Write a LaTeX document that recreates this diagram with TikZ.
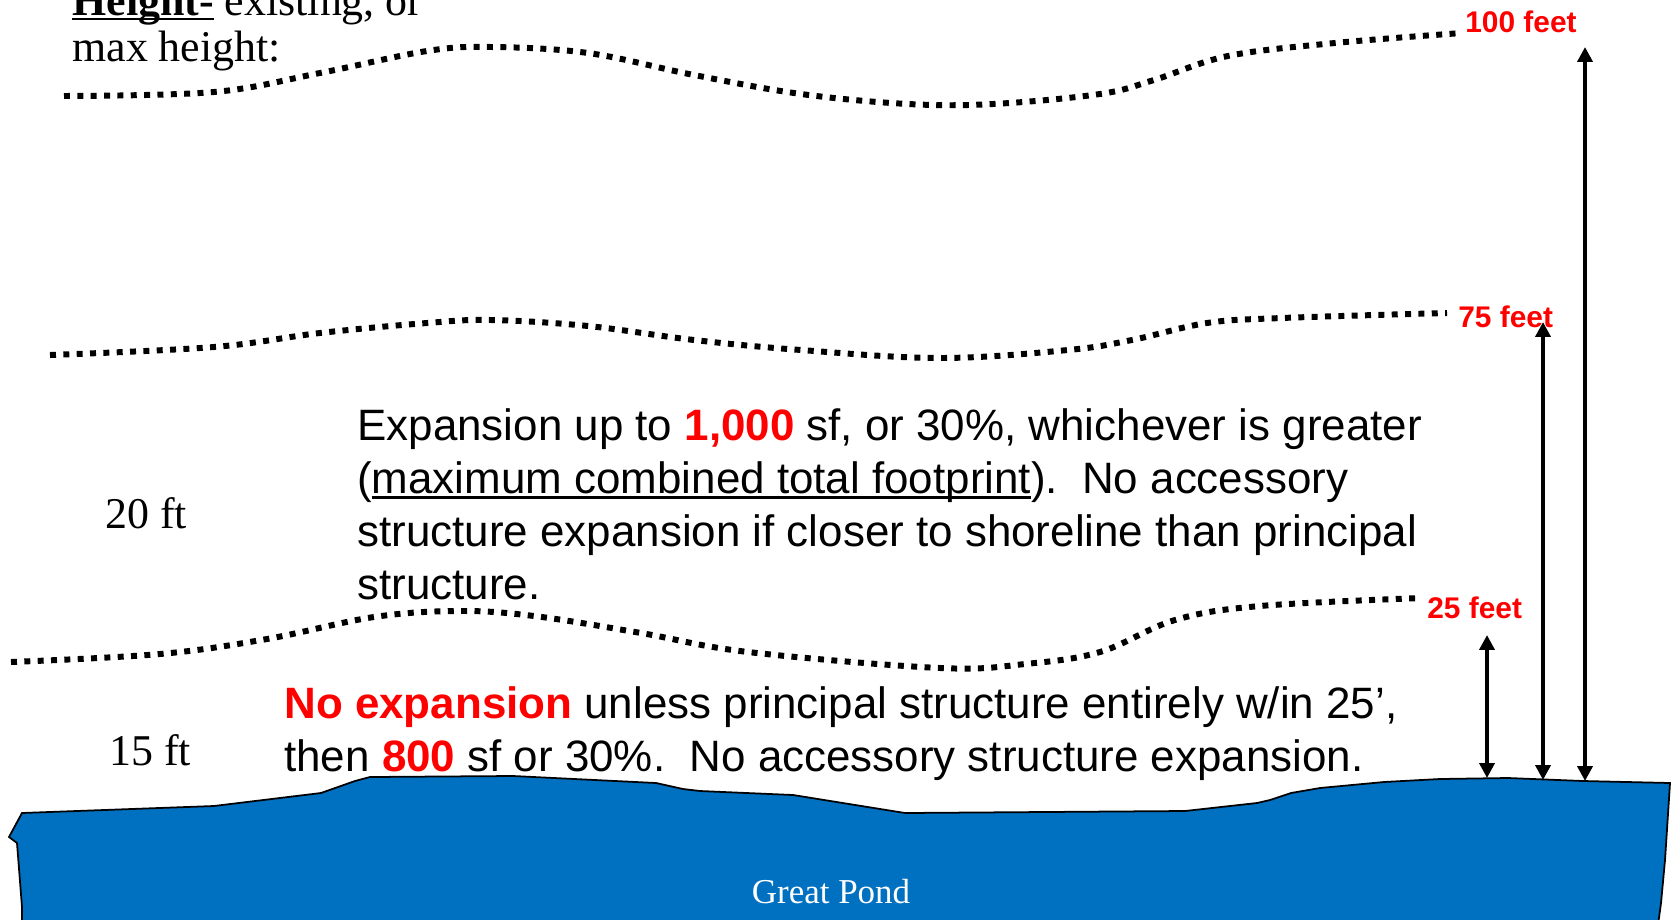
\documentclass[tikz,border=0pt]{standalone}
\usepackage{fontspec}
\setmainfont{Liberation Serif}
\newfontfamily\arialfont{Liberation Sans}
\definecolor{pondblue}{RGB}{0,112,192}
\definecolor{setred}{RGB}{255,0,0}
\usetikzlibrary{arrows.meta}
\tikzset{
  limitline/.style={line width=3.4pt, dash pattern=on 3.4pt off 4.2pt, line cap=butt},
  feetlabel/.style={anchor=west, inner sep=0pt, text=setred, font=\arialfont\bfseries\fontsize{17}{20}\selectfont},
  ftlabel/.style={anchor=west, inner sep=0pt, font=\fontsize{25}{28}\selectfont},
  ruletext/.style={anchor=base west, inner sep=0pt, align=left, font=\arialfont\fontsize{25}{30}\selectfont},
  setback/.style={line width=2.5pt, {Triangle[length=8.5pt,width=8.5pt]}-{Triangle[length=8.5pt,width=8.5pt]}},
}
\newcommand{\redbf}[1]{\textcolor{setred}{\bfseries #1}}
\newcommand{\ulbar}[1]{\setbox0\hbox{#1}\rlap{\rule[-0.12em]{\wd0}{0.065em}}\box0\relax}

\begin{document}
\begin{tikzpicture}[x=0.02cm, y=-0.02cm]
  \useasboundingbox (0,0) rectangle (1675,919);

  %% Heading, cut off at the top (base = last line)
  \node[anchor=base west, inner sep=0pt, align=left, font=\fontsize{25}{26.7}\selectfont] (head) at (72,62)
    {\ulbar{\textbf{Height-}} existing, or\\max height:};

  %% Dotted height lines
  \draw[limitline] plot[smooth, tension=0.6] coordinates {(64,96) (214,92) (320,73) (427,51) (491,47) (588,53) (694,75) (801,94) (908,104) (993,104) (1100,94) (1154,80) (1228,56) (1335,43) (1462,33)};
  \draw[limitline] plot[smooth, tension=0.6] coordinates {(50,355) (214,347) (320,333) (427,323) (491,320) (588,326) (694,340) (801,350) (940,358) (1068,350) (1132,340) (1207,323) (1282,318) (1447,313)};
  \draw[limitline] plot[smooth, tension=0.6] coordinates {(11,662) (160,654) (267,639) (374,617) (459,611) (534,616) (641,633) (748,652) (940,668) (1025,664) (1100,652) (1175,620) (1260,606) (1422,598)};

  %% Setback labels
  \node[feetlabel] (f100) at (1465,22) {100 feet};
  \node[feetlabel] (f75) at (1458,317) {75 feet};
  \node[feetlabel] (f25) at (1427,608) {25 feet};

  %% Height labels
  \node[ftlabel] (ft20) at (105,513) {20 ft};
  \node[ftlabel] (ft15) at (109,750) {15 ft};

  %% Rules (base = last line)
  \node[ruletext] (zone75) at (357,599)
    {Expansion up to \redbf{1,000} sf, or 30\%, whichever is greater\\
     (\ulbar{maximum combined total footprint}).\ \ No accessory\\
     structure expansion if closer to shoreline than principal\\
     structure.};
  \node[ruletext] (zone25) at (284,771)
    {\redbf{No expansion} unless principal structure entirely w/in 25’,\\
     then \redbf{800} sf or 30\%.\ \ No accessory structure expansion.};

  %% Great Pond
  \draw[fill=pondblue, line width=1pt] (22,813) -- (9,837) -- (17,843) -- (22,907) -- (22,925)
    -- (1658,925) -- (1661,903) -- (1665,860) -- (1670,783) -- (1583,781) -- (1508,778)
    -- (1440,779) -- (1384,782) -- (1320,788) -- (1291,793) -- (1270,800) -- (1257,803)
    -- (1185,811) -- (905,813) -- (793,795) -- (700,791) -- (683,789) -- (656,783)
    -- (513,776) -- (370,777) -- (355,781) -- (321,793) -- (214,806) -- cycle;
  \node[text=white, font=\fontsize{19.9}{22}\selectfont, inner sep=0pt] (pond) at (831,892) {Great Pond};

  %% Setback arrows
  \coordinate (t100) at (1585,47);  \coordinate (b100) at (1585,781);
  \coordinate (t75)  at (1543,322); \coordinate (b75)  at (1543,780);
  \coordinate (t25)  at (1487,635); \coordinate (b25)  at (1487,778);
  \draw[setback] (b100) -- (t100);
  \draw[setback] (b75) -- (t75);
  \draw[setback] (b25) -- (t25);
\end{tikzpicture}
\end{document}
